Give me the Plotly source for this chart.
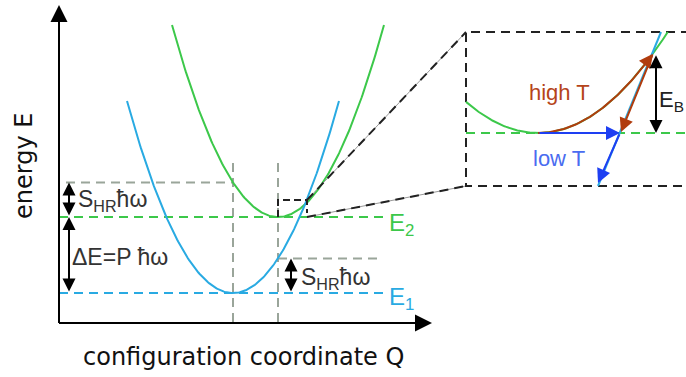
import numpy as np
import plotly.graph_objects as go

# ---------------- schematic data (figure units; E grows downward) ----------------
state_labels = ["E<sub>1</sub>", "E<sub>2</sub>"]
state_colors = ["#29aae2", "#3cc84a"]
Q_minima = [233, 278]          # configuration coordinate of each parabola minimum
E_minima = [293, 217]          # energy of each minimum
E_tops = [101, 25]             # energy where each parabola is cut off
curve_k = 0.01709              # curvature shared by both parabolas

axis_origin = [59, 323]
axis_ends = [432, 5]

# inset (zoom on the crossing)
inset_box_x = [466, 690]
inset_box_y = [32, 186]
inset_Q_min = 538
inset_E_min = 133
inset_k = 0.006
inset_blue_Q = [598, 661]
inset_blue_E = [186, 32]
crossing_Q = 653
landing_Q = 620
descent_end = [598, 183]

zoom_box_x = [278, 307]
zoom_box_y = [200, 217]

GRAY = "#9aa59a"
BROWN = "#b03c0e"
BLUE_ARROW = "#1e3ff2"
FONT = "Liberation Sans, Arial, sans-serif"
AXFONT = "DejaVu Sans, Liberation Sans, sans-serif"

fig = go.Figure()

def line(x, y, color, width=2, dash=None):
    fig.add_trace(go.Scatter(x=x, y=y, mode="lines", hoverinfo="skip",
                             line=dict(color=color, width=width, dash=dash)))

# gray helper lines
E_green_at_Q1 = E_minima[1] - curve_k * (Q_minima[0] - Q_minima[1]) ** 2
E_blue_at_Q2 = E_minima[0] - curve_k * (Q_minima[1] - Q_minima[0]) ** 2
line([Q_minima[0], Q_minima[0]], [163, axis_origin[1]], GRAY, 2, "9px,6px")
line([Q_minima[1], Q_minima[1]], [163, axis_origin[1]], GRAY, 2, "9px,6px")
line([66, Q_minima[0]], [E_green_at_Q1] * 2, GRAY, 2, "9px,6px")
line([Q_minima[1], 383], [E_blue_at_Q2] * 2, GRAY, 2, "9px,6px")

# level lines
line([axis_origin[0], 383], [E_minima[1]] * 2, state_colors[1], 2, "9px,6px")
line([axis_origin[0], 383], [E_minima[0]] * 2, state_colors[0], 2, "9px,6px")

# parabolas
for i in [1, 0]:
    half = np.sqrt((E_minima[i] - E_tops[i]) / curve_k)
    q = np.linspace(Q_minima[i] - half, Q_minima[i] + half, 200)
    e = E_minima[i] - curve_k * (q - Q_minima[i]) ** 2
    line(q, e, state_colors[i], 2)

# zoom box + connectors
line([zoom_box_x[0], zoom_box_x[0], zoom_box_x[1], zoom_box_x[1]],
     [zoom_box_y[1], zoom_box_y[0], zoom_box_y[0], zoom_box_y[1] - 4], "#222", 2, "7px,4px")
line([zoom_box_x[1], inset_box_x[0]], [zoom_box_y[0], inset_box_y[0]], "#999", 1)
line([zoom_box_x[1], inset_box_x[0]], [zoom_box_y[1], inset_box_y[1]], "#999", 1)
line([zoom_box_x[1], inset_box_x[0]], [zoom_box_y[0], inset_box_y[0]], "#222", 2, "9px,6px")
line([zoom_box_x[1], inset_box_x[0]], [zoom_box_y[1], inset_box_y[1]], "#222", 2, "9px,6px")

# inset box
line([inset_box_x[1], inset_box_x[0], inset_box_x[0], inset_box_x[1]],
     [inset_box_y[0], inset_box_y[0], inset_box_y[1], inset_box_y[1]], "#222", 2, "9px,6px")
line([inset_box_x[0], inset_box_x[1]], [inset_E_min] * 2, state_colors[1], 2, "9px,6px")

# inset curves
q_top = inset_Q_min + np.sqrt((inset_E_min - inset_box_y[0]) / inset_k)
qg = np.linspace(inset_box_x[0], q_top, 200)
line(qg, inset_E_min - inset_k * (qg - inset_Q_min) ** 2, state_colors[1], 2)
line(inset_blue_Q, inset_blue_E, state_colors[0], 2)

# brown path along the parabola (high T)
qb = np.linspace(inset_Q_min, crossing_Q - 4, 100)
line(qb, inset_E_min - inset_k * (qb - inset_Q_min) ** 2, BROWN, 2)
cross_E = inset_E_min - inset_k * (crossing_Q - inset_Q_min) ** 2

def arrow(x, y, ax, ay, color, side="end", width=2, size=1.3):
    fig.add_annotation(x=x, y=y, ax=ax, ay=ay, xref="x", yref="y", axref="x", ayref="y",
                       text="", showarrow=True, arrowhead=2, arrowsize=size,
                       arrowwidth=width, arrowcolor=color, arrowside=side,
                       standoff=0, startstandoff=0)

pre_Q = crossing_Q - 8
arrow(crossing_Q, cross_E, pre_Q, inset_E_min - inset_k * (pre_Q - inset_Q_min) ** 2, BROWN, size=1.4)
arrow(landing_Q + 1, inset_E_min - 1, crossing_Q, cross_E, BROWN, size=1.4)
# low T
arrow(landing_Q, inset_E_min, inset_Q_min, inset_E_min, BLUE_ARROW, size=1.4)
arrow(descent_end[0], descent_end[1], landing_Q, inset_E_min, BLUE_ARROW, size=1.4)
# E_B
arrow(656, inset_E_min, 656, cross_E, "black", "end+start", 2, 1.3)

# energy gaps
arrow(69, E_green_at_Q1, 69, E_minima[1], "black", "end+start", 2, 1.3)
arrow(69, E_minima[1], 69, E_minima[0], "black", "end+start", 2, 1.3)
arrow(291, E_blue_at_Q2, 291, E_minima[0], "black", "end+start", 2, 1.3)

# axes
line([axis_origin[0], axis_origin[0]], [axis_origin[1], axis_ends[1] + 8], "black", 2)
line([axis_origin[0], axis_ends[0] - 8], [axis_origin[1], axis_origin[1]], "black", 2)
arrow(axis_origin[0], axis_ends[1], axis_origin[0], axis_ends[1] + 20, "black", "end", 2, 1.7)
arrow(axis_ends[0], axis_origin[1], axis_ends[0] - 20, axis_origin[1], "black", "end", 2, 1.7)

def text(x, y, s, size, color, angle=0, xanchor="center", family=FONT):
    fig.add_annotation(x=x, y=y, xref="x", yref="y", text=s, showarrow=False,
                       textangle=angle, xanchor=xanchor, yanchor="middle",
                       font=dict(family=family, size=size, color=color))

text(24, 166, "energy E", 24, "#111", -90, family=AXFONT)
text(243, 357, "configuration coordinate Q", 24, "#111", family=AXFONT)
text(387, E_minima[1] + 7, state_labels[1], 24, state_colors[1], xanchor="left")
text(387, E_minima[0] + 5, state_labels[0], 24, state_colors[0], xanchor="left")
text(76, 200, "S<sub>HR</sub>ħω", 23, "#333", xanchor="left")
text(70, 257, "ΔE=P ħω", 23, "#333", xanchor="left")
text(299, 278, "S<sub>HR</sub>ħω", 23, "#333", xanchor="left")
text(527, 92, "high T", 22, "#b5441a", xanchor="left")
text(531, 158, "low T", 22, "#4a6cf0", xanchor="left")
text(657, 101, "E<sub>B</sub>", 22, "#222", xanchor="left")

fig.update_layout(
    width=686, height=377, margin=dict(l=0, r=0, t=0, b=0),
    paper_bgcolor="white", plot_bgcolor="white", showlegend=False,
    xaxis=dict(range=[0, 686], visible=False, fixedrange=True),
    yaxis=dict(range=[377, 0], visible=False, fixedrange=True),
)
fig.write_html("out.html")
